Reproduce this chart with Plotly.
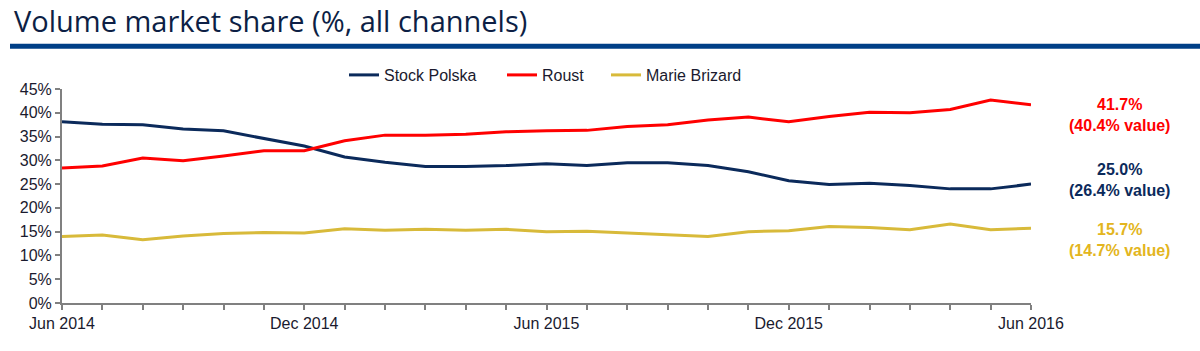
import plotly.graph_objects as go

months = ["Jun 2014", "Jul 2014", "Aug 2014", "Sep 2014", "Oct 2014", "Nov 2014", "Dec 2014",
          "Jan 2015", "Feb 2015", "Mar 2015", "Apr 2015", "May 2015", "Jun 2015",
          "Jul 2015", "Aug 2015", "Sep 2015", "Oct 2015", "Nov 2015", "Dec 2015",
          "Jan 2016", "Feb 2016", "Mar 2016", "Apr 2016", "May 2016", "Jun 2016"]
shown_ticks = ["Jun 2014", "Dec 2014", "Jun 2015", "Dec 2015", "Jun 2016"]

stock_polska = [38.1, 37.6, 37.5, 36.6, 36.2, 34.6, 33.0, 30.7, 29.6, 28.7, 28.7, 28.9, 29.3,
                28.9, 29.5, 29.5, 28.9, 27.6, 25.7, 24.9, 25.2, 24.7, 24.0, 24.0, 25.0]
roust = [28.4, 28.8, 30.5, 29.9, 30.9, 32.0, 32.0, 34.1, 35.3, 35.3, 35.5, 36.0, 36.2,
         36.3, 37.1, 37.5, 38.5, 39.1, 38.1, 39.2, 40.1, 40.0, 40.7, 42.7, 41.7]
marie_brizard = [14.0, 14.3, 13.3, 14.1, 14.6, 14.8, 14.7, 15.6, 15.3, 15.5, 15.3, 15.5, 15.0,
                 15.1, 14.7, 14.3, 14.0, 15.0, 15.2, 16.1, 15.9, 15.4, 16.6, 15.4, 15.7]

series_names = ["Stock Polska", "Roust", "Marie Brizard"]
series_values = [stock_polska, roust, marie_brizard]
colors = ["#0B2A5B", "#FF0000", "#D8BA3A"]
label_colors = ["#0B2A5B", "#FF0000", "#E3B520"]
end_labels = [("25.0%", "(26.4% value)"), ("41.7%", "(40.4% value)"), ("15.7%", "(14.7% value)")]
label_y = [25.8, 39.6, 13.2]

FONT = "Liberation Sans, Arial"
legend_ids = ["legend", "legend2", "legend3"]
legend_text_x = [386, 544, 648]  # pixel x where each legend label starts

fig = go.Figure()
for name, vals, col, lid in zip(series_names, series_values, colors, legend_ids):
    fig.add_trace(go.Scatter(x=months, y=vals, name=name, mode="lines", legend=lid,
                             line=dict(color=col, width=3)))

for (l1, l2), yv, col in zip(end_labels, label_y, label_colors):
    fig.add_annotation(x=1.0913, xref="paper", y=yv, yref="y",
                       text=f"<b>{l1}</b><br><b>{l2}</b>", showarrow=False,
                       font=dict(family=FONT, size=16, color=col),
                       xanchor="center", yanchor="middle", align="center")

# Title
fig.add_annotation(text="Volume market share (%, all channels)", xref="paper", yref="paper",
                   x=-50 / 969, y=(303.3 - 42) / 214, xanchor="left", yanchor="bottom",
                   showarrow=False,
                   font=dict(family="Open Sans", size=29, color="#0D1F45"))

# blue rule under the title
fig.add_shape(type="rect", xref="paper", yref="paper",
              x0=-52 / 969, x1=1.2,
              y0=(303.3 - 49) / 214, y1=(303.3 - 44) / 214,
              line=dict(width=0), fillcolor="#003F87")

legend_common = dict(orientation="h", y=1.0 - 3 / 214, yanchor="bottom", xanchor="left",
                     font=dict(family=FONT, size=16, color="#1A1A2E"), itemwidth=30,
                     bgcolor="rgba(0,0,0,0)")
legends = {}
for lid, tx in zip(legend_ids, legend_text_x):
    legends[lid] = dict(legend_common, x=(tx - 42 - 62) / 969)

fig.update_layout(
    width=1200, height=351,
    margin=dict(l=62, r=169, t=89, b=48),
    paper_bgcolor="white", plot_bgcolor="white",
    font=dict(family=FONT, size=16, color="#1A1A2E"),
    showlegend=True,
    xaxis=dict(type="category", range=[0, len(months) - 1],
               tickmode="array", tickvals=months,
               ticktext=[m if m in shown_ticks else "" for m in months],
               showgrid=False, showline=True, linecolor="#808080", linewidth=2,
               ticks="outside", ticklen=5, tickcolor="#808080", tickwidth=2,
               tickangle=0, tickfont=dict(family=FONT, size=16, color="#1A1A2E")),
    yaxis=dict(range=[0, 45], dtick=5, ticksuffix="%", showgrid=False,
               showline=True, linecolor="#808080", linewidth=2,
               ticks="outside", ticklen=5, tickcolor="#808080", tickwidth=2,
               zeroline=False, tickfont=dict(family=FONT, size=16, color="#1A1A2E")),
    **legends,
)

fig.write_html("out.html")
